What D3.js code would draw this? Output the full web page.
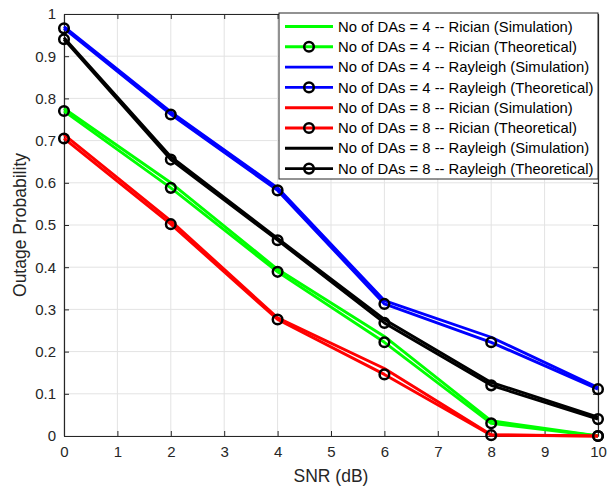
<!DOCTYPE html>
<html>
<head>
<meta charset="utf-8">
<script src="https://cdn.jsdelivr.net/npm/d3@7"></script>
<style>
  body { margin: 0; background: #fff; }
  svg { font-family: "Liberation Sans", Arial, Helvetica, sans-serif; }
  .tick text { fill: #262626; font-size: 15px; }
</style>
</head>
<body>
<div id="svg-container"></div>
<script>
////////////////////////////////////////////////////////////////////
////////////////////////////  Data  ////////////////////////////////
const snr = [0, 2, 4, 6, 8, 10];

const ricianSim4 = [0.776, 0.6, 0.395, 0.236, 0.036, 0.0];
const ricianTheo4 = [0.77, 0.588, 0.389, 0.222, 0.03, 0.0];
const rayleighSim4 = [0.97, 0.768, 0.588, 0.321, 0.234, 0.115];
const rayleighTheo4 = [0.966, 0.762, 0.582, 0.313, 0.222, 0.111];
const ricianSim8 = [0.714, 0.51, 0.28, 0.16, 0.003, 0.0];
const ricianTheo8 = [0.705, 0.502, 0.276, 0.146, 0.002, 0.0];
const rayleighSim8 = [0.944, 0.662, 0.468, 0.276, 0.127, 0.045];
const rayleighTheo8 = [0.94, 0.655, 0.464, 0.268, 0.12, 0.04];

const seriesNames = [
  "No of DAs = 4 -- Rician (Simulation)",
  "No of DAs = 4 -- Rician (Theoretical)",
  "No of DAs = 4 -- Rayleigh (Simulation)",
  "No of DAs = 4 -- Rayleigh (Theoretical)",
  "No of DAs = 8 -- Rician (Simulation)",
  "No of DAs = 8 -- Rician (Theoretical)",
  "No of DAs = 8 -- Rayleigh (Simulation)",
  "No of DAs = 8 -- Rayleigh (Theoretical)",
];
const seriesColors = ["#00ff00", "#00ff00", "#0000ff", "#0000ff", "#ff0000", "#ff0000", "#000000", "#000000"];
const seriesMarkers = [false, true, false, true, false, true, false, true];
const seriesValues = [ricianSim4, ricianTheo4, rayleighSim4, rayleighTheo4, ricianSim8, ricianTheo8, rayleighSim8, rayleighTheo8];

const xTicks = d3.range(0, 11, 1);
const yTicks = d3.range(0, 11, 1).map((d) => d / 10);

////////////////////////////////////////////////////////////////////
////////////////////////////  Init  ////////////////////////////////
const width = 609;
const height = 487;
const margin = { top: 14, right: 11, bottom: 51, left: 64 };
const w = width - margin.left - margin.right;
const h = height - margin.top - margin.bottom;

const svg = d3.select("#svg-container").append("svg").attr("width", width).attr("height", height);
const g = svg.append("g").attr("transform", `translate(${margin.left},${margin.top})`);

const x = d3.scaleLinear().domain([0, 10]).range([0, w]);
const y = d3.scaleLinear().domain([0, 1]).range([h, 0]);

const axisColor = "#262626";

// grid
g.append("g")
  .selectAll("line")
  .data(xTicks)
  .join("line")
  .attr("x1", (d) => x(d))
  .attr("x2", (d) => x(d))
  .attr("y1", 0)
  .attr("y2", h)
  .attr("stroke", "#e3e3e3")
  .attr("stroke-width", 1);

g.append("g")
  .selectAll("line")
  .data(yTicks)
  .join("line")
  .attr("x1", 0)
  .attr("x2", w)
  .attr("y1", (d) => y(d))
  .attr("y2", (d) => y(d))
  .attr("stroke", "#e3e3e3")
  .attr("stroke-width", 1);

// axes (ticks inside, all four sides)
const xAxis = g.append("g")
  .attr("transform", `translate(0,${h})`)
  .call(d3.axisBottom(x).tickValues(xTicks).tickSizeInner(-5).tickSizeOuter(0).tickPadding(10).tickFormat(d3.format("d")));
const xAxisTop = g.append("g")
  .call(d3.axisTop(x).tickValues(xTicks).tickSizeInner(-5).tickSizeOuter(0).tickFormat(""));
const yAxis = g.append("g")
  .call(d3.axisLeft(y).tickValues(yTicks).tickSizeInner(-5).tickSizeOuter(0).tickPadding(8).tickFormat((d) => d3.format("")(+d.toFixed(1))));
const yAxisRight = g.append("g")
  .attr("transform", `translate(${w},0)`)
  .call(d3.axisRight(y).tickValues(yTicks).tickSizeInner(-5).tickSizeOuter(0).tickFormat(""));

[xAxis, xAxisTop, yAxis, yAxisRight].forEach((a) => {
  a.select(".domain").attr("stroke", axisColor).attr("stroke-width", 1.2);
  a.selectAll(".tick line").attr("stroke", axisColor);
  a.selectAll(".tick text").attr("fill", axisColor);
});

// axis labels
svg.append("text")
  .attr("x", margin.left + w / 2)
  .attr("y", 482)
  .attr("text-anchor", "middle")
  .attr("fill", axisColor)
  .style("font-size", "17.5px")
  .text("SNR (dB)");

svg.append("text")
  .attr("transform", `translate(26,${margin.top + h / 2}) rotate(-90)`)
  .attr("text-anchor", "middle")
  .attr("fill", axisColor)
  .style("font-size", "17.5px")
  .text("Outage Probability");

////////////////////////////////////////////////////////////////////
////////////////////////////  Lines  ///////////////////////////////
const line = d3.line().x((d, i) => x(snr[i])).y((d) => y(d));

const series = g.append("g")
  .selectAll("g")
  .data(seriesValues)
  .join("g");

series
  .append("path")
  .attr("d", (d) => line(d))
  .attr("fill", "none")
  .attr("stroke", (d, i) => seriesColors[i])
  .attr("stroke-width", 2.9)
  .attr("stroke-linejoin", "round");

series
  .filter((d, i) => seriesMarkers[i])
  .selectAll("circle")
  .data((d) => d)
  .join("circle")
  .attr("cx", (d, i) => x(snr[i]))
  .attr("cy", (d) => y(d))
  .attr("r", 4.8)
  .attr("fill", "none")
  .attr("stroke", "#000")
  .attr("stroke-width", 2.5);

////////////////////////////////////////////////////////////////////
////////////////////////////  Legend  //////////////////////////////
const legend = svg.append("g").attr("transform", "translate(279,13)");

legend.append("rect")
  .attr("width", 319)
  .attr("height", 166)
  .attr("fill", "#fff")
  .attr("stroke", axisColor)
  .attr("stroke-width", 1);

const item = legend.selectAll("g.item")
  .data(seriesNames)
  .join("g")
  .attr("class", "item")
  .attr("transform", (d, i) => `translate(0,${13.5 + i * 20.3})`);

item.append("line")
  .attr("x1", 6)
  .attr("x2", 54)
  .attr("stroke", (d, i) => seriesColors[i])
  .attr("stroke-width", 2.9);

item.filter((d, i) => seriesMarkers[i])
  .append("circle")
  .attr("cx", 30)
  .attr("r", 4.8)
  .attr("fill", "none")
  .attr("stroke", "#000")
  .attr("stroke-width", 2.5);

item.append("text")
  .attr("x", 59)
  .attr("dy", "0.35em")
  .attr("fill", "#000")
  .style("font-size", "14.8px")
  .text((d) => d);
</script>
</body>
</html>
